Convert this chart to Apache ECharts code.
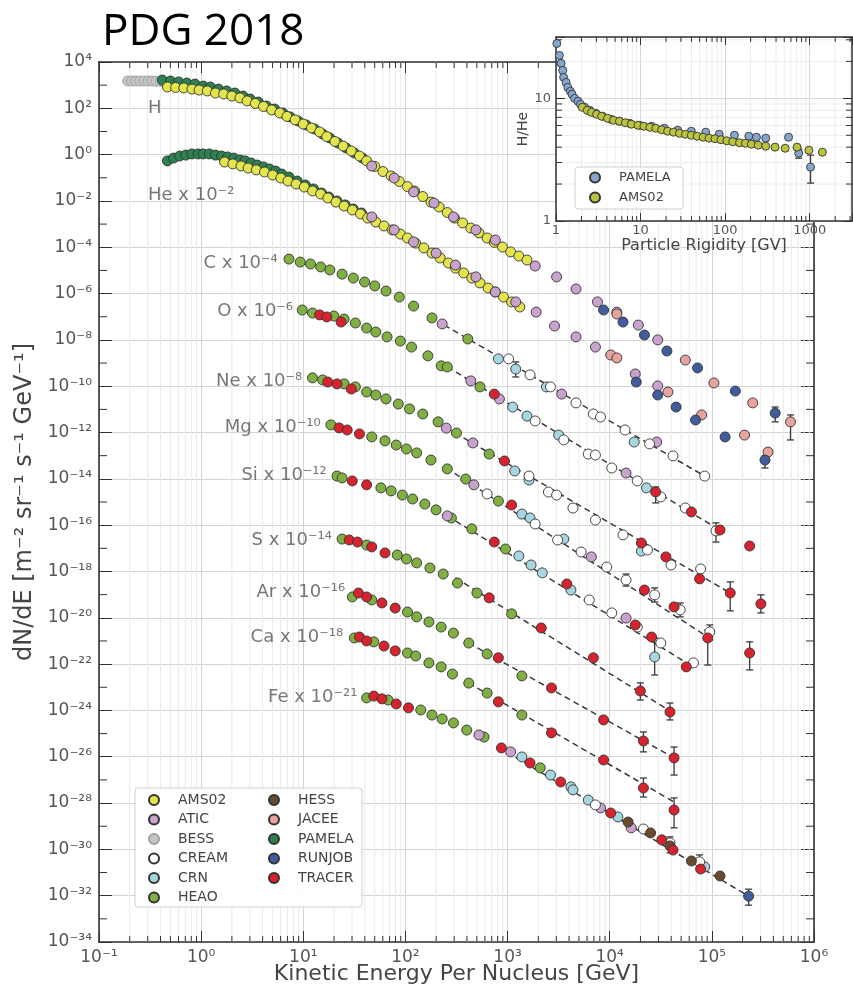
<!DOCTYPE html>
<html>
<head>
<meta charset="utf-8">
<title>PDG 2018 - cosmic ray nuclei spectra</title>
<script src="https://cdn.jsdelivr.net/npm/echarts@6/dist/echarts.min.js"></script>
<style>
  html, body { margin: 0; padding: 0; background: #fff; }
  #main { width: 853px; height: 988px; }
</style>
</head>
<body>
<div id="main"></div>
<script>
// every point is [log10(E / GeV), log10(dN/dE as plotted)]
var H_BESS = [[-0.72,3.18],[-0.68,3.18],[-0.64,3.18],[-0.60,3.18],[-0.56,3.18],[-0.52,3.18],[-0.48,3.18],[-0.44,3.17],[-0.40,3.17],[-0.37,3.16]];
var H_PAMELA = [[-0.38,3.22],[-0.30,3.18],[-0.22,3.14],[-0.14,3.09],[-0.06,3.05],[0.02,2.96],[0.09,2.92],[0.17,2.83],[0.25,2.75],[0.33,2.66],[0.41,2.53],[0.48,2.40],[0.56,2.27],[0.64,2.10],[0.72,1.97],[0.80,1.80],[0.87,1.63],[0.95,1.45],[1.03,1.28],[1.11,1.11],[1.19,0.89],[1.26,0.72],[1.34,0.50],[1.42,0.29],[1.50,0.07],[1.58,-0.15]];
var H_AMS02 = [[-0.33,2.92],[-0.25,2.90],[-0.17,2.88],[-0.09,2.83],[-0.02,2.79],[0.06,2.75],[0.14,2.66],[0.22,2.62],[0.30,2.53],[0.38,2.45],[0.45,2.32],[0.53,2.21],[0.61,2.08],[0.69,1.93],[0.77,1.80],[0.84,1.65],[0.92,1.50],[1.00,1.32],[1.08,1.15],[1.16,0.98],[1.23,0.78],[1.31,0.57],[1.39,0.37],[1.47,0.16],[1.55,-0.06],[1.62,-0.27],[1.70,-0.51],[1.78,-0.73],[1.86,-0.92],[1.94,-1.16],[2.02,-1.38],[2.09,-1.57],[2.17,-1.81],[2.25,-2.05],[2.33,-2.26],[2.41,-2.50],[2.48,-2.74],[2.56,-2.95],[2.64,-3.17],[2.72,-3.38],[2.80,-3.60],[2.87,-3.79],[2.95,-3.99],[3.03,-4.20],[3.11,-4.38],[3.19,-4.55]];
var H_ATIC = [[1.67,-0.49],[1.89,-1.01],[2.08,-1.61],[2.28,-2.09],[2.47,-2.69],[2.69,-3.25],[2.88,-3.69],[3.27,-4.81],[3.48,-5.28],[3.67,-5.80],[3.88,-6.36],[4.07,-6.80],[4.28,-7.36],[4.47,-8.00]];
var H_JACEE = [[4.07,-6.88],[4.74,-8.87],[5.02,-9.86],[5.40,-10.72],[5.77,-11.54]];
var H_RUNJOB = [[3.94,-6.71],[4.13,-7.23],[4.34,-7.79],[4.56,-8.48],[4.86,-9.21],[5.23,-10.21],[5.62,-11.16]];

var He_PAMELA = [[-0.33,-0.27],[-0.27,-0.15],[-0.21,-0.06],[-0.15,-0.02],[-0.09,0.03],[-0.03,0.03],[0.02,0.03],[0.08,0.03],[0.14,-0.02],[0.20,-0.06],[0.26,-0.10],[0.32,-0.15],[0.38,-0.23],[0.43,-0.27],[0.49,-0.36],[0.55,-0.45],[0.61,-0.53],[0.67,-0.62],[0.73,-0.71],[0.79,-0.84],[0.86,-0.97],[0.94,-1.14],[1.02,-1.31],[1.10,-1.48],[1.18,-1.66],[1.25,-1.83],[1.33,-2.00],[1.41,-2.17],[1.49,-2.35],[1.57,-2.52]];
var He_AMS02 = [[0.23,-0.32],[0.31,-0.40],[0.39,-0.49],[0.46,-0.58],[0.54,-0.66],[0.62,-0.75],[0.70,-0.88],[0.78,-1.01],[0.85,-1.14],[0.93,-1.27],[1.01,-1.40],[1.09,-1.57],[1.17,-1.70],[1.24,-1.87],[1.32,-2.05],[1.40,-2.22],[1.48,-2.39],[1.56,-2.56],[1.63,-2.74],[1.71,-2.91],[1.79,-3.08],[1.87,-3.25],[1.95,-3.43],[2.02,-3.60],[2.10,-3.82],[2.18,-4.03],[2.26,-4.25],[2.34,-4.46],[2.42,-4.68],[2.49,-4.90],[2.57,-5.11],[2.65,-5.33],[2.73,-5.54],[2.81,-5.76],[2.88,-5.93],[2.96,-6.15],[3.04,-6.36],[3.12,-6.58]];
var He_ATIC = [[1.67,-2.69],[1.89,-3.25],[2.08,-3.77],[2.30,-4.25],[2.49,-4.77],[2.69,-5.28],[2.88,-5.93],[3.08,-6.36],[3.28,-6.80],[3.46,-7.40],[3.67,-7.87],[3.86,-8.31],[4.25,-9.47],[4.47,-9.99]];
var He_JACEE = [[4.01,-8.65],[4.07,-8.78],[4.57,-10.25],[4.90,-11.24],[5.32,-12.11],[5.55,-12.84]];
var He_RUNJOB = [[4.26,-9.82],[4.47,-10.38],[4.65,-10.90],[4.84,-11.46],[5.13,-12.19],[5.52,-13.19]];

var C_HEAO = [[0.86,-4.51],[0.97,-4.64],[1.07,-4.72],[1.17,-4.85],[1.26,-4.98],[1.38,-5.16],[1.49,-5.33],[1.60,-5.50],[1.70,-5.67],[1.81,-5.89],[1.94,-6.15],[2.08,-6.54],[2.26,-7.05],[2.61,-7.96]];
var C_ATIC = [[2.36,-7.31],[3.53,-10.34],[4.46,-12.41]];
var C_CRN = [[2.91,-8.82],[3.08,-9.26],[3.38,-10.03],[4.24,-12.41]];
var C_CREAM = [[3.01,-8.82],[3.22,-9.51],[3.42,-10.03],[3.67,-10.72],[3.84,-11.20],[3.91,-11.33],[4.15,-11.89],[4.39,-12.49],[4.62,-13.01],[4.93,-13.88]];

var O_HEAO = [[0.99,-6.71],[1.09,-6.84],[1.30,-6.97],[1.40,-7.10],[1.51,-7.27],[1.62,-7.49],[1.71,-7.66],[1.82,-7.87],[1.95,-8.05],[2.06,-8.31],[2.22,-8.69],[2.35,-9.12],[2.41,-9.17],[2.73,-10.03]];
var O_TRACER = [[1.16,-6.92],[1.23,-7.01],[1.37,-7.23],[2.87,-10.34],[4.45,-14.57],[4.80,-15.43],[5.08,-16.21],[5.37,-16.90]];
var O_ATIC = [[2.64,-9.77],[2.92,-10.55],[4.16,-13.75]];
var O_CRN = [[3.05,-10.90],[3.19,-11.29],[3.50,-12.11],[4.36,-14.39]];
var O_CREAM = [[3.27,-11.50],[3.55,-12.32],[3.79,-12.93],[3.86,-12.97],[4.02,-13.53],[4.27,-14.09],[4.50,-14.78],[4.74,-15.26],[5.04,-16.25]];

var Ne_HEAO = [[1.09,-9.64],[1.19,-9.73],[1.40,-9.90],[1.51,-10.03],[1.62,-10.25],[1.71,-10.38],[1.81,-10.55],[1.93,-10.77],[2.04,-10.98],[2.17,-11.20],[2.32,-11.54],[2.50,-12.02],[2.82,-12.93]];
var Ne_TRACER = [[1.24,-9.82],[1.33,-9.90],[1.47,-10.12],[2.97,-13.23],[4.31,-16.77],[4.55,-17.37],[4.88,-18.32],[5.18,-18.93],[5.48,-19.40]];
var Ne_ATIC = [[2.40,-11.81],[2.66,-12.45]];
var Ne_CRN = [[3.07,-13.66],[3.21,-14.05],[4.31,-17.12]];
var Ne_CREAM = [[3.21,-13.88],[3.40,-14.57],[3.48,-14.70],[3.64,-15.26],[3.86,-15.78],[4.13,-16.42],[4.37,-17.07],[4.60,-17.72],[4.89,-17.89]];

var Mg_HEAO = [[1.27,-11.67],[1.67,-12.19],[1.80,-12.36],[1.91,-12.54],[2.01,-12.71],[2.11,-12.88],[2.25,-13.19],[2.41,-13.57],[2.59,-14.01],[2.91,-14.96]];
var Mg_TRACER = [[1.35,-11.80],[1.43,-11.89],[1.55,-12.06],[3.04,-15.13],[4.34,-18.80],[4.63,-19.53],[4.96,-20.87],[5.37,-21.52]];
var Mg_ATIC = [[2.67,-14.26],[3.82,-17.37]];
var Mg_CRN = [[3.14,-15.52],[3.22,-15.69],[3.55,-16.60]];
var Mg_CREAM = [[2.80,-14.65],[3.27,-15.95],[3.49,-16.64],[3.72,-17.16],[3.97,-17.81],[4.16,-18.37],[4.44,-19.01],[4.69,-19.66],[4.98,-20.61]];

var Si_HEAO = [[1.33,-13.88],[1.38,-13.96],[1.76,-14.39],[1.86,-14.52],[1.97,-14.70],[2.07,-14.87],[2.19,-15.09],[2.30,-15.34],[2.45,-15.69],[2.65,-16.16],[2.98,-17.03]];
var Si_TRACER = [[1.48,-14.09],[1.62,-14.26],[2.87,-16.73],[3.58,-18.54],[4.25,-20.31],[4.41,-20.83],[4.75,-22.12]];
var Si_ATIC = [[2.41,-15.60],[4.16,-20.01]];
var Si_CRN = [[3.11,-17.33],[3.23,-17.72],[3.34,-18.06],[3.62,-18.80],[4.44,-21.69]];
var Si_CREAM = [[3.80,-19.23],[4.02,-19.79],[4.27,-20.40],[4.50,-21.09],[4.82,-21.95]];

var S_HEAO = [[1.38,-16.60],[1.62,-16.86],[1.92,-17.29],[2.01,-17.46],[2.11,-17.63],[2.24,-17.85],[2.37,-18.11],[2.51,-18.50],[2.70,-18.93],[3.04,-19.83]];
var S_TRACER = [[1.45,-16.64],[1.53,-16.73],[1.67,-16.94],[1.80,-17.20],[2.82,-19.14],[3.33,-20.44],[3.84,-21.73],[4.30,-23.16],[4.59,-24.07]];

var Ar_HEAO = [[1.48,-19.10],[1.67,-19.23],[2.02,-19.75],[2.11,-19.96],[2.23,-20.18],[2.35,-20.40],[2.47,-20.66],[2.62,-21.09],[2.80,-21.56],[3.14,-22.51]];
var Ar_TRACER = [[1.54,-18.93],[1.62,-19.10],[1.77,-19.36],[1.90,-19.58],[2.91,-21.73],[3.43,-23.03],[3.94,-24.41],[4.33,-25.32],[4.63,-26.05]];

var Ca_HEAO = [[1.50,-20.87],[1.69,-21.04],[2.02,-21.52],[2.10,-21.65],[2.23,-21.95],[2.35,-22.12],[2.46,-22.43],[2.62,-22.82],[2.80,-23.25],[3.14,-24.20]];
var Ca_TRACER = [[1.55,-20.83],[1.62,-21.00],[1.79,-21.22],[1.90,-21.43],[2.91,-23.63],[3.43,-24.97],[3.94,-26.14],[4.33,-27.35],[4.63,-28.30]];

var Fe_HEAO = [[1.62,-23.46],[1.83,-23.55],[2.15,-23.98],[2.26,-24.20],[2.36,-24.37],[2.47,-24.54],[2.60,-24.85],[2.77,-25.15],[3.32,-26.48]];
var Fe_TRACER = [[1.69,-23.38],[1.77,-23.50],[1.91,-23.72],[2.03,-23.89],[2.94,-25.62],[3.22,-26.27],[3.52,-27.09],[4.01,-28.43],[4.51,-29.59],[4.62,-30.03],[4.89,-30.85]];
var Fe_ATIC = [[2.72,-25.06],[3.03,-25.79],[3.91,-28.21],[4.21,-29.07]];
var Fe_CRN = [[3.14,-26.01],[3.42,-26.79],[3.62,-27.30],[3.64,-27.43],[3.79,-27.87],[4.08,-28.60],[4.93,-30.76]];
var Fe_CREAM = [[3.86,-28.08],[4.33,-29.12],[4.59,-29.72],[4.88,-30.54]];
var Fe_HESS = [[4.18,-28.82],[4.40,-29.29],[4.59,-29.85],[4.80,-30.50],[5.08,-31.15]];
var Fe_RUNJOB = [[5.36,-32.02]];

// [log10 E, log10 upper, log10 lower]
var errorBars = [[5.77,-11.24,-12.32],[5.62,-10.90,-11.54],[5.52,-13.01,-13.53],[3.08,-8.95,-9.60],
  [4.45,-14.35,-15.04],[5.04,-15.90,-16.73],[5.18,-18.45,-19.70],[5.48,-19.01,-19.79],
  [4.16,-18.11,-18.63],[4.44,-18.71,-19.32],[4.69,-19.36,-19.96],[4.98,-20.31,-20.96],
  [4.96,-20.53,-22.04],[5.37,-21.04,-22.25],[4.44,-20.87,-22.47],[4.30,-22.81,-23.55],
  [4.59,-23.68,-24.41],[4.33,-24.93,-25.79],[4.63,-25.58,-26.79],[4.33,-26.92,-27.74],
  [4.63,-27.78,-29.07],[4.59,-29.46,-30.15],[4.88,-30.24,-30.80],[5.36,-31.72,-32.41]];

// power-law fits (dashed): [log10 E1, log10 F1, log10 E2, log10 F2]
var fitLines = [[2.38,-7.36,4.93,-13.88],[2.41,-9.17,5.08,-16.21],[2.40,-11.80,5.18,-18.93],
  [2.40,-13.53,4.96,-20.83],[2.41,-15.60,4.77,-21.99],[2.49,-18.28,4.59,-24.02],
  [2.62,-21.09,4.63,-26.05],[2.62,-22.82,4.63,-27.95],[2.91,-25.58,5.36,-32.02]];

var elements = ['H', 'He', 'C', 'O', 'Ne', 'Mg', 'Si', 'S', 'Ar', 'Ca', 'Fe'];
var scaleExp = [0, -2, -4, -6, -8, -10, -12, -14, -16, -18, -21];
var labelAnchor = [[-0.52,2.01],[-0.52,-1.74],[0.75,-4.68],[0.90,-6.75],[0.99,-9.77],[1.17,-11.76],[1.23,-13.83],[1.28,-16.64],[1.41,-18.88],[1.39,-20.83],[1.53,-23.42]];

// inset: [log10 rigidity / GV, log10 H/He]
var ratio_PAMELA = [[0.01,1.447],[0.04,1.350],[0.06,1.285],[0.08,1.228],[0.09,1.171],[0.12,1.130],[0.14,1.089],[0.17,1.057],[0.19,1.033],[0.22,1.000],[0.26,0.976],[0.29,0.951],[0.34,0.927],[0.40,0.902],[0.47,0.878],[0.55,0.854],[0.65,0.829],[0.75,0.813],[0.87,0.797],[0.99,0.780],[1.13,0.772],[1.28,0.756],[1.44,0.740],[1.60,0.732],[1.77,0.724],[1.93,0.707],[2.11,0.699],[2.28,0.691],[2.37,0.683],[2.48,0.675],[2.75,0.683],[2.87,0.553],[3.01,0.439]];
var ratio_AMS02 = [[0.31,0.927],[0.37,0.902],[0.42,0.886],[0.48,0.870],[0.54,0.854],[0.61,0.837],[0.68,0.821],[0.75,0.813],[0.82,0.801],[0.89,0.789],[0.97,0.780],[1.04,0.772],[1.11,0.764],[1.18,0.756],[1.25,0.744],[1.32,0.732],[1.39,0.724],[1.46,0.715],[1.53,0.707],[1.60,0.699],[1.67,0.691],[1.74,0.683],[1.81,0.675],[1.88,0.671],[1.95,0.663],[2.02,0.654],[2.09,0.646],[2.17,0.638],[2.24,0.634],[2.31,0.626],[2.39,0.618],[2.48,0.610],[2.59,0.602],[2.71,0.593],[2.85,0.602],[2.99,0.577],[3.15,0.561]];
var ratioErrors = [[2.87,0.585,0.512],[3.01,0.537,0.309]];

var FONT = 'DejaVu Sans';
var SUP = {'-': '\u207B', '0': '\u2070', '1': '\u00B9', '2': '\u00B2', '3': '\u00B3', '4': '\u2074',
  '5': '\u2075', '6': '\u2076', '7': '\u2077', '8': '\u2078', '9': '\u2079'};
function sup(n) {
    return String(n).split('').map(function (c) { return SUP[c] || c; }).join('');
}
function pow10(v) { return '10' + sup(Math.round(v)); }

var experiments = [
    {name: 'HEAO', color: '#80b042', sets: [C_HEAO, O_HEAO, Ne_HEAO, Mg_HEAO, Si_HEAO, S_HEAO, Ar_HEAO, Ca_HEAO, Fe_HEAO]},
    {name: 'BESS', color: '#c4c4c4', edge: '#a0a0a0', sets: [H_BESS]},
    {name: 'PAMELA', color: '#2e8050', sets: [H_PAMELA, He_PAMELA]},
    {name: 'AMS02', color: '#e4e44c', sets: [H_AMS02, He_AMS02]},
    {name: 'ATIC', color: '#c9a3cd', sets: [H_ATIC, He_ATIC, C_ATIC, O_ATIC, Ne_ATIC, Mg_ATIC, Si_ATIC, Fe_ATIC]},
    {name: 'CRN', color: '#a6d6e0', sets: [C_CRN, O_CRN, Ne_CRN, Mg_CRN, Si_CRN, Fe_CRN]},
    {name: 'CREAM', color: '#ffffff', sets: [C_CREAM, O_CREAM, Ne_CREAM, Mg_CREAM, Si_CREAM, Fe_CREAM]},
    {name: 'JACEE', color: '#e8a39d', sets: [H_JACEE, He_JACEE]},
    {name: 'RUNJOB', color: '#405c9c', sets: [H_RUNJOB, He_RUNJOB, Fe_RUNJOB]},
    {name: 'HESS', color: '#6b4b2d', sets: [Fe_HESS]},
    {name: 'TRACER', color: '#d7232e', sets: [O_TRACER, Ne_TRACER, Mg_TRACER, Si_TRACER, S_TRACER, Ar_TRACER, Ca_TRACER, Fe_TRACER]}
];

// minor tick / grid positions (log decades)
var mainMinorX = [], mainMinorY = [], insetMinorX = [], insetMinorY = [];
for (var d = -1; d < 6; d++) for (var k = 2; k <= 9; k++) mainMinorX.push(d + Math.log10(k));
for (var e = -33; e <= 3; e += 2) mainMinorY.push(e);
for (d = 0; d < 4; d++) for (k = 2; k <= 9; k++) if (d + Math.log10(k) < 3.5) insetMinorX.push(d + Math.log10(k));
for (k = 2; k <= 9; k++) insetMinorY.push(Math.log10(k));
insetMinorY.push(Math.log10(20), Math.log10(30));

function segSeries(xi, yi, segs, color, z) {
    return {
        type: 'custom', xAxisIndex: xi, yAxisIndex: yi, z: z, silent: true, data: segs,
        renderItem: function (params, api) {
            var a = api.coord([api.value(0), api.value(1)]);
            var b = api.coord([api.value(2), api.value(3)]);
            return {type: 'line', shape: {x1: a[0], y1: a[1], x2: b[0], y2: b[1]}, style: {stroke: color, lineWidth: 1}};
        }
    };
}
function tickSeries(xi, yi, pts, dx, dy, z) {
    return {
        type: 'custom', xAxisIndex: xi, yAxisIndex: yi, z: z, silent: true, data: pts,
        renderItem: function (params, api) {
            var p = api.coord([api.value(0), api.value(1)]);
            return {type: 'line', shape: {x1: p[0], y1: p[1], x2: p[0] + dx, y2: p[1] + dy}, style: {stroke: '#333', lineWidth: 1}};
        }
    };
}
function errSeries(xi, yi, bars, z) {
    return {
        type: 'custom', xAxisIndex: xi, yAxisIndex: yi, z: z, silent: true, data: bars,
        renderItem: function (params, api) {
            var t = api.coord([api.value(0), api.value(1)]);
            var b = api.coord([api.value(0), api.value(2)]);
            var st = {stroke: '#3a3a3a', lineWidth: 1.3};
            return {type: 'group', children: [
                {type: 'line', shape: {x1: t[0], y1: t[1], x2: b[0], y2: b[1]}, style: st},
                {type: 'line', shape: {x1: t[0] - 3.5, y1: t[1], x2: t[0] + 3.5, y2: t[1]}, style: st},
                {type: 'line', shape: {x1: b[0] - 3.5, y1: b[1], x2: b[0] + 3.5, y2: b[1]}, style: st}
            ]};
        }
    };
}

var series = [];
series.push(segSeries(0, 0, mainMinorX.map(function (x) { return [x, -34, x, 4]; }), '#ebebeb', 1));
series.push(tickSeries(0, 0, mainMinorX.map(function (x) { return [x, -34]; }), 0, -6, 1));
series.push(tickSeries(0, 0, mainMinorX.map(function (x) { return [x, 4]; }), 0, 6, 1));
series.push(tickSeries(0, 0, mainMinorY.map(function (y) { return [-1, y]; }), 8, 0, 1));
series.push(tickSeries(0, 0, mainMinorY.map(function (y) { return [6, y]; }), -8, 0, 1));

fitLines.forEach(function (f) {
    series.push({
        type: 'line', xAxisIndex: 0, yAxisIndex: 0, z: 2, silent: true, symbol: 'none',
        data: [[f[0], f[1]], [f[2], f[3]]],
        lineStyle: {color: '#3a3a3a', width: 1.5, type: [6, 4]}
    });
});
series.push(errSeries(0, 0, errorBars, 2));

experiments.forEach(function (ex) {
    series.push({
        name: ex.name, type: 'scatter', xAxisIndex: 0, yAxisIndex: 0, z: 3, silent: true,
        symbol: 'circle', symbolSize: 10,
        data: [].concat.apply([], ex.sets),
        itemStyle: {color: ex.color, borderColor: ex.edge || '#333', borderWidth: 0.9, opacity: 1}
    });
});

series.push({
    name: 'labels', type: 'scatter', xAxisIndex: 0, yAxisIndex: 0, z: 4, silent: true, symbolSize: 0,
    data: elements.map(function (el, i) {
        return {
            name: scaleExp[i] === 0 ? el : el + ' x 10' + sup(scaleExp[i]),
            value: labelAnchor[i],
            label: {position: i < 2 ? 'right' : 'left'}
        };
    }),
    label: {show: true, distance: 0, formatter: '{b}', fontSize: 18, color: '#555', fontFamily: FONT}
});

// inset: H/He ratio
series.push(segSeries(2, 2, insetMinorX.map(function (x) { return [x, 0, x, 1.5]; }), '#ededed', 6));
series.push(segSeries(2, 2, insetMinorY.map(function (y) { return [0, y, 3.5, y]; }), '#ededed', 6));
series.push(tickSeries(2, 2, insetMinorX.map(function (x) { return [x, 0]; }), 0, -5, 8));
series.push(tickSeries(2, 2, insetMinorX.map(function (x) { return [x, 1.5]; }), 0, 5, 8));
series.push(tickSeries(2, 2, insetMinorY.map(function (y) { return [0, y]; }), 6, 0, 8));
series.push(tickSeries(2, 2, insetMinorY.map(function (y) { return [3.5, y]; }), -6, 0, 8));
series.push(errSeries(2, 2, ratioErrors, 8));
series.push({
    name: 'PAMELA H/He', type: 'scatter', xAxisIndex: 2, yAxisIndex: 2, z: 9, silent: true,
    symbol: 'circle', symbolSize: 8, data: ratio_PAMELA,
    itemStyle: {color: '#86a6cf', borderColor: '#333', borderWidth: 0.9, opacity: 1}
});
series.push({
    name: 'AMS02 H/He', type: 'scatter', xAxisIndex: 2, yAxisIndex: 2, z: 9, silent: true,
    symbol: 'circle', symbolSize: 8, data: ratio_AMS02,
    itemStyle: {color: '#bcc43e', borderColor: '#333', borderWidth: 0.9, opacity: 1}
});

function axisLine(w) { return {onZero: false, lineStyle: {color: '#333', width: w}}; }
var labelStyle = {fontFamily: FONT, color: '#555'};

var myChart = echarts.init(document.getElementById('main'));
var option = {
    animation: false,
    backgroundColor: '#fff',
    textStyle: {fontFamily: FONT},
    title: {
        text: 'PDG 2018', left: 102, top: 10, padding: 0,
        textStyle: {fontFamily: 'Open Sans', fontSize: 44, fontWeight: 'normal', color: '#000'}
    },
    grid: [
        {left: 99, top: 62, width: 715, height: 880, outerBoundsMode: 'none'},
        {left: 556, top: 37, width: 296, height: 184, outerBoundsMode: 'none',
         show: true, backgroundColor: '#fff', borderWidth: 0, z: 5}
    ],
    xAxis: [
        {
            type: 'value', gridIndex: 0, min: -1, max: 6, interval: 1, position: 'bottom',
            name: 'Kinetic Energy Per Nucleus [GeV]', nameLocation: 'middle', nameGap: 21,
            nameMoveOverlap: false,
            nameTextStyle: {fontSize: 22, color: '#444', fontFamily: FONT},
            axisLine: axisLine(1.6), axisTick: {inside: true, length: 11, lineStyle: {color: '#333'}},
            axisLabel: Object.assign({formatter: pow10, fontSize: 17, margin: 7, showMinLabel: true, showMaxLabel: true}, labelStyle),
            splitLine: {lineStyle: {color: '#d4d4d4'}}
        },
        {
            type: 'value', gridIndex: 0, min: -1, max: 6, interval: 1, position: 'top',
            axisLine: axisLine(1.6), axisTick: {inside: true, length: 11, lineStyle: {color: '#333'}},
            axisLabel: {show: false}, splitLine: {show: false}
        },
        {
            type: 'value', gridIndex: 1, min: 0, max: 3.5, interval: 1, position: 'bottom', z: 7,
            name: 'Particle Rigidity [GV]', nameLocation: 'middle', nameGap: 17,
            nameTextStyle: {fontSize: 16, color: '#444', fontFamily: FONT},
            axisLine: axisLine(1.5), axisTick: {inside: true, length: 8, lineStyle: {color: '#333'}},
            axisLabel: Object.assign({
                fontSize: 13, margin: 3, showMinLabel: true,
                formatter: function (v) { return v % 1 === 0 ? String(Math.round(Math.pow(10, v))) : ''; }
            }, labelStyle),
            splitLine: {lineStyle: {color: '#d8d8d8'}}
        },
        {
            type: 'value', gridIndex: 1, min: 0, max: 3.5, interval: 1, position: 'top', z: 7,
            axisLine: axisLine(1.5), axisTick: {inside: true, length: 8, lineStyle: {color: '#333'}},
            axisLabel: {show: false}, splitLine: {show: false}
        }
    ],
    yAxis: [
        {
            type: 'value', gridIndex: 0, min: -34, max: 4, interval: 2, position: 'left',
            name: 'dN/dE [m\u207B\u00B2 sr\u207B\u00B9 s\u207B\u00B9 GeV\u207B\u00B9]',
            nameLocation: 'middle', nameRotate: 90, nameGap: 56,
            nameTextStyle: {fontSize: 24, color: '#444', fontFamily: FONT},
            axisLine: axisLine(1.6), axisTick: {inside: true, length: 13, lineStyle: {color: '#333'}},
            axisLabel: Object.assign({formatter: pow10, fontSize: 17, margin: 7, showMinLabel: true, showMaxLabel: true}, labelStyle),
            splitLine: {lineStyle: {color: '#d4d4d4'}}
        },
        {
            type: 'value', gridIndex: 0, min: -34, max: 4, interval: 2, position: 'right',
            axisLine: axisLine(1.6), axisTick: {inside: true, length: 13, lineStyle: {color: '#333'}},
            axisLabel: {show: false}, splitLine: {show: false}
        },
        {
            type: 'value', gridIndex: 1, min: 0, max: 1.5, interval: 1, position: 'left', z: 7,
            name: 'H/He', nameLocation: 'middle', nameRotate: 90, nameGap: 22,
            nameTextStyle: {fontSize: 14, color: '#444', fontFamily: FONT},
            axisLine: axisLine(1.5), axisTick: {inside: true, length: 9, lineStyle: {color: '#333'}},
            axisLabel: Object.assign({
                fontSize: 13, margin: 5, showMinLabel: true,
                formatter: function (v) { return v % 1 === 0 ? String(Math.round(Math.pow(10, v))) : ''; }
            }, labelStyle),
            splitLine: {lineStyle: {color: '#d8d8d8'}}
        },
        {
            type: 'value', gridIndex: 1, min: 0, max: 1.5, interval: 1, position: 'right', z: 7,
            axisLine: axisLine(1.5), axisTick: {inside: true, length: 9, lineStyle: {color: '#333'}},
            axisLabel: {show: false}, splitLine: {show: false}
        }
    ],
    legend: [
        {
            data: ['AMS02', 'ATIC', 'BESS', 'CREAM', 'CRN', 'HEAO'], orient: 'vertical',
            left: 148, top: 793, itemWidth: 38, itemHeight: 10, itemGap: 5.5, icon: 'circle',
            selectedMode: false, padding: 0, textStyle: {fontSize: 14, color: '#444', fontFamily: FONT}
        },
        {
            data: ['HESS', 'JACEE', 'PAMELA', 'RUNJOB', 'TRACER'], orient: 'vertical',
            left: 268, top: 793, itemWidth: 38, itemHeight: 10, itemGap: 5.5, icon: 'circle',
            selectedMode: false, padding: 0, textStyle: {fontSize: 14, color: '#444', fontFamily: FONT}
        },
        {
            data: ['PAMELA H/He', 'AMS02 H/He'], orient: 'vertical', z: 12,
            left: 589, top: 171, itemWidth: 38, itemHeight: 10, itemGap: 7, icon: 'circle',
            selectedMode: false, padding: 0,
            formatter: function (name) { return name.replace(' H/He', ''); },
            textStyle: {fontSize: 13, color: '#444', fontFamily: FONT}
        }
    ],
    graphic: [
        {type: 'rect', z: 3, silent: true, shape: {x: 135, y: 788, width: 227, height: 119, r: 3},
         style: {fill: 'rgba(255,255,255,0.92)', stroke: '#d0d0d0', lineWidth: 1}},
        {type: 'rect', z: 10, silent: true, shape: {x: 575, y: 167, width: 108, height: 42, r: 3},
         style: {fill: 'rgba(255,255,255,0.9)', stroke: '#d0d0d0', lineWidth: 1}}
    ],
    series: series
};

myChart.setOption(option);
window.addEventListener('resize', function () {
    myChart.resize();
});
</script>
</body>
</html>
